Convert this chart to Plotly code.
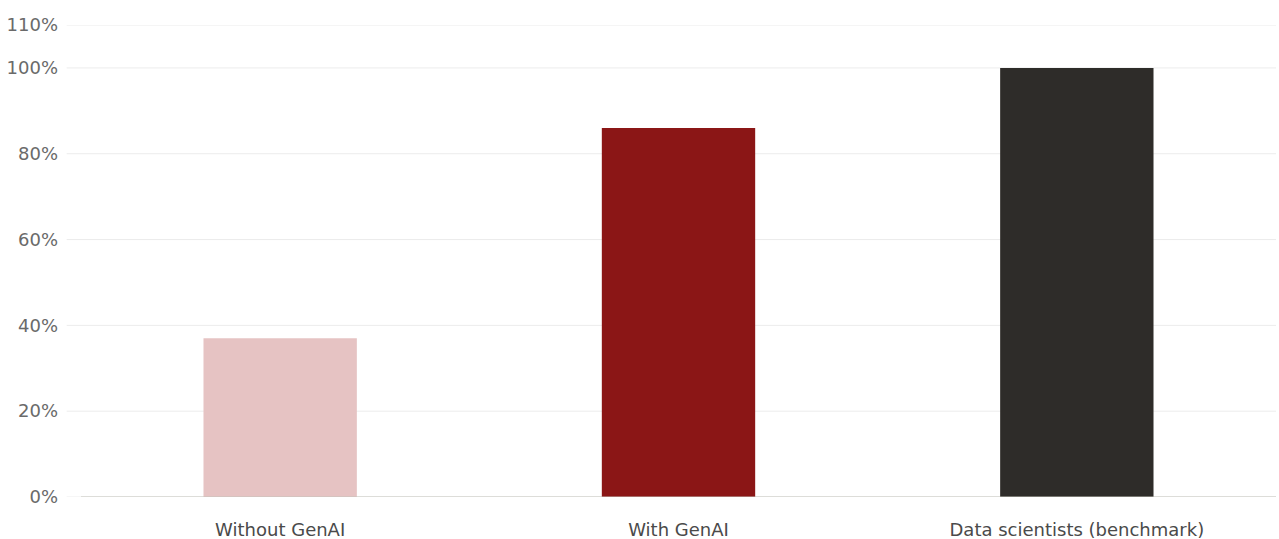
import plotly.graph_objects as go

categories = ["Without GenAI", "With GenAI", "Data scientists (benchmark)"]
values = [37, 86, 100]
colors = ["#e6c3c3", "#8b1616", "#2e2c29"]
tick_vals = [0, 20, 40, 60, 80, 100, 110]
tick_text = ["0%", "20%", "40%", "60%", "80%", "100%", "110%"]

fig = go.Figure()
fig.add_trace(go.Bar(
    x=categories, y=values, marker_color=colors, marker_line_width=0,
    width=0.385, hoverinfo="skip"
))

shapes = []
for v in tick_vals:
    shapes.append(dict(type="line", xref="paper", yref="y", x0=-0.012, x1=1.0,
                       y0=v, y1=v, line=dict(color="#ececec", width=1), layer="below"))
shapes.append(dict(type="line", xref="paper", yref="y", x0=0, x1=1, y0=0, y1=0,
                   line=dict(color="#c4c4bc", width=1.2), layer="above"))

fig.update_layout(
    width=1279, height=539,
    margin=dict(l=81, r=3, t=25, b=42),
    paper_bgcolor="white", plot_bgcolor="white",
    font=dict(family="DejaVu Sans, sans-serif", size=18, color="#555555"),
    showlegend=False,
    shapes=shapes,
)
fig.update_yaxes(range=[0, 110], tickvals=tick_vals, ticktext=tick_text,
                 showgrid=False, zeroline=False, showline=False, automargin=False,
                 ticklabelstandoff=22, tickfont=dict(size=18, color="#6a6a6a"))
fig.update_xaxes(showgrid=False, showline=False, zeroline=False, automargin=False,
                 ticklabelstandoff=20, tickfont=dict(size=18, color="#4a4a4a"))

fig.write_html("out.html")
